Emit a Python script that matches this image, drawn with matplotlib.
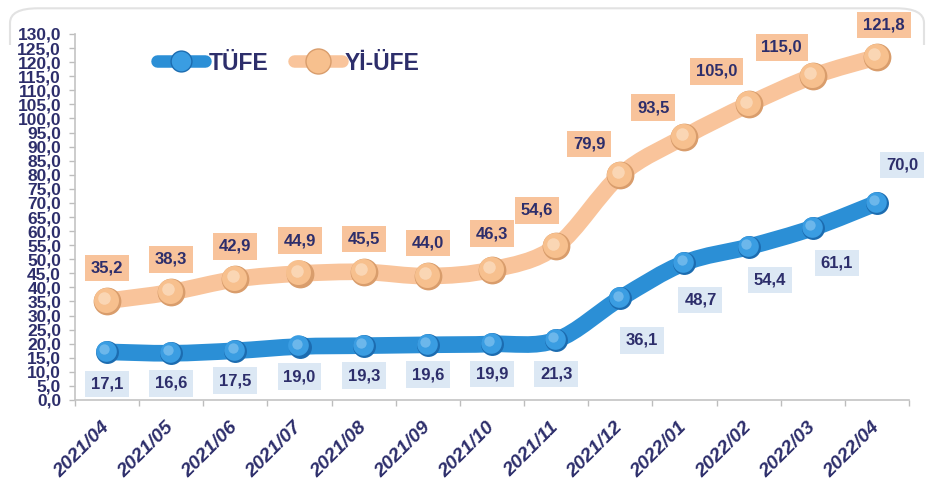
import numpy as np
import matplotlib
matplotlib.use('Agg')
import matplotlib.pyplot as plt
from matplotlib.path import Path
from matplotlib.patches import PathPatch, FancyBboxPatch, Rectangle
from matplotlib.lines import Line2D
from matplotlib.transforms import offset_copy

# Данные
months = ['2021/04', '2021/05', '2021/06', '2021/07', '2021/08', '2021/09', '2021/10',
          '2021/11', '2021/12', '2022/01', '2022/02', '2022/03', '2022/04']
tufe = [17.1, 16.6, 17.5, 19.0, 19.3, 19.6, 19.9, 21.3, 36.1, 48.7, 54.4, 61.1, 70.0]
yiufe = [35.2, 38.3, 42.9, 44.9, 45.5, 44.0, 46.3, 54.6, 79.9, 93.5, 105.0, 115.0, 121.8]
y_ticks = np.arange(0, 131, 5)

# Смещения подписей (в пикселях): для ТÜFE вниз, для Yİ-ÜFE вверх
tufe_dx = [0, 0, 0, 0, 0, 0, 0, 0, 22, 16, 21, 24, 25]
tufe_down = [32, 30, 30, 30, 30, 30, 30, 34, 42, 37, 33, 35, -38]
yiufe_dx = [0, 0, 0, 0, 0, 0, 0, -19, -31, -31, -32, -31, 7]
yiufe_up = [33, 33, 33, 33, 33, 33, 36, 36, 31, 29, 33, 29, 32]

NAVY = '#2d2e6b'
BLUE_LINE = '#2b8fd6'
BLUE_MK = '#3a9de2'
BLUE_RIM = '#1c6cb0'
BLUE_HI = '#8fcaf2'
OR_LINE = '#f9c49b'
OR_MK = '#f7c08e'
OR_RIM = '#d99d6c'
OR_HI = '#fde6cf'
OR_BOX = '#f8c39b'
BL_BOX = '#dce8f4'

plt.rcParams['font.family'] = ['Liberation Sans', 'DejaVu Sans']


# Сглаженная линия (кривые Безье как в Excel)
def smooth_path(xs, ys):
    pts = np.column_stack([xs, ys]).astype(float)
    n = len(pts)
    verts = [pts[0]]
    codes = [Path.MOVETO]
    for i in range(n - 1):
        p0 = pts[i - 1] if i > 0 else pts[i]
        p1 = pts[i]
        p2 = pts[i + 1]
        p3 = pts[i + 2] if i + 2 < n else pts[i + 1]
        c1 = p1 + (p2 - p0) / 6.0
        c2 = p2 - (p3 - p1) / 6.0
        verts += [c1, c2, p2]
        codes += [Path.CURVE4] * 3
    return Path(verts, codes)


def draw_series(ax, fig, x, y, line_c, mk_c, rim_c, hi_c, lw, ms, z):
    patch = PathPatch(smooth_path(x, y), facecolor='none', edgecolor=line_c, lw=lw,
                      capstyle='round', joinstyle='round', zorder=z)
    ax.add_patch(patch)
    # объёмные маркеры
    ax.plot(x, y, 'o', ms=ms, color=rim_c, mec='none', zorder=z + 1)
    tr = offset_copy(ax.transData, fig=fig, x=-0.8, y=0.8, units='points')
    ax.plot(x, y, 'o', ms=ms * 0.9, color=mk_c, mec='none', zorder=z + 2, transform=tr)
    tr2 = offset_copy(ax.transData, fig=fig, x=-2.0, y=2.0, units='points')
    ax.plot(x, y, 'o', ms=ms * 0.45, color=hi_c, mec='none', alpha=0.6, zorder=z + 3, transform=tr2)


def main():
    fig = plt.figure(figsize=(9.31, 4.88), dpi=100)
    # рамка (видна только сверху)
    frame = FancyBboxPatch((10 / 931, -0.2), 914 / 931, 1.183, transform=fig.transFigure,
                           boxstyle='round,pad=0,rounding_size=0.03',
                           facecolor='none', edgecolor='#e2e2e2', lw=1.5)
    clip = Rectangle((0, 1 - 45 / 488), 1, 45 / 488, transform=fig.transFigure)
    frame.set_clip_path(clip)
    fig.patches.append(frame)

    ax = fig.add_axes([75 / 931, 1 - 400 / 488, 834 / 931, 366 / 488])
    x = np.arange(len(months))

    draw_series(ax, fig, x, yiufe, OR_LINE, OR_MK, OR_RIM, OR_HI, 12, 20, 3)
    draw_series(ax, fig, x, tufe, BLUE_LINE, BLUE_MK, BLUE_RIM, BLUE_HI, 12, 16.5, 7)

    # подписи значений
    for i in range(len(months)):
        ax.annotate(f'{yiufe[i]:.1f}'.replace('.', ','), (x[i], yiufe[i]),
                    xytext=(yiufe_dx[i], yiufe_up[i]), textcoords='offset pixels',
                    ha='center', va='center', fontsize=12, fontweight='bold', color=NAVY,
                    bbox=dict(boxstyle='square,pad=0.35', fc=OR_BOX, ec='none'), zorder=20)
        ax.annotate(f'{tufe[i]:.1f}'.replace('.', ','), (x[i], tufe[i]),
                    xytext=(tufe_dx[i], -tufe_down[i]), textcoords='offset pixels',
                    ha='center', va='center', fontsize=12, fontweight='bold', color=NAVY,
                    bbox=dict(boxstyle='square,pad=0.35', fc=BL_BOX, ec='none'), zorder=20)

    ax.set_xlim(-0.5, len(months) - 0.5)
    ax.set_ylim(0, 130)
    ax.set_yticks(y_ticks)
    ax.set_yticklabels([f'{v:.1f}'.replace('.', ',') for v in y_ticks],
                       fontsize=12.5, fontweight='bold', color=NAVY)
    ax.set_xticks(x)
    ax.set_xticklabels(months, rotation=45, ha='right', va='center', rotation_mode='anchor',
                       fontsize=14, fontweight='bold', fontstyle='italic', color=NAVY)
    ax.set_xticks(np.arange(-0.5, len(months), 1), minor=True)
    ax.tick_params(axis='x', which='major', length=0, pad=18)
    ax.tick_params(axis='x', which='minor', length=4, color='#bdbdbd', width=1)
    ax.tick_params(axis='y', length=4, color='#bdbdbd', width=1, pad=6)
    for s in ['top', 'right']:
        ax.spines[s].set_visible(False)
    for s in ['left', 'bottom']:
        ax.spines[s].set_color('#c4c4c4')
        ax.spines[s].set_linewidth(1.2)

    # легенда
    handles = [Line2D([], [], color=BLUE_LINE, lw=9, marker='o', ms=15, mfc=BLUE_MK, mec=BLUE_RIM,
                      solid_capstyle='round'),
               Line2D([], [], color=OR_LINE, lw=9, marker='o', ms=18, mfc=OR_MK, mec=OR_RIM,
                      solid_capstyle='round')]
    leg = ax.legend(handles, ['TÜFE', 'Yİ-ÜFE'], loc='center left',
                    bbox_to_anchor=(157 / 931, 1 - 63 / 488), bbox_transform=fig.transFigure,
                    ncol=2, frameon=False, borderpad=0, borderaxespad=0,
                    handlelength=2.1, handletextpad=0.15, columnspacing=1.1,
                    prop={'size': 16.5, 'weight': 'bold'})
    for t in leg.get_texts():
        t.set_color(NAVY)

    fig.savefig('out.png', dpi=100)


if __name__ == '__main__':
    main()
